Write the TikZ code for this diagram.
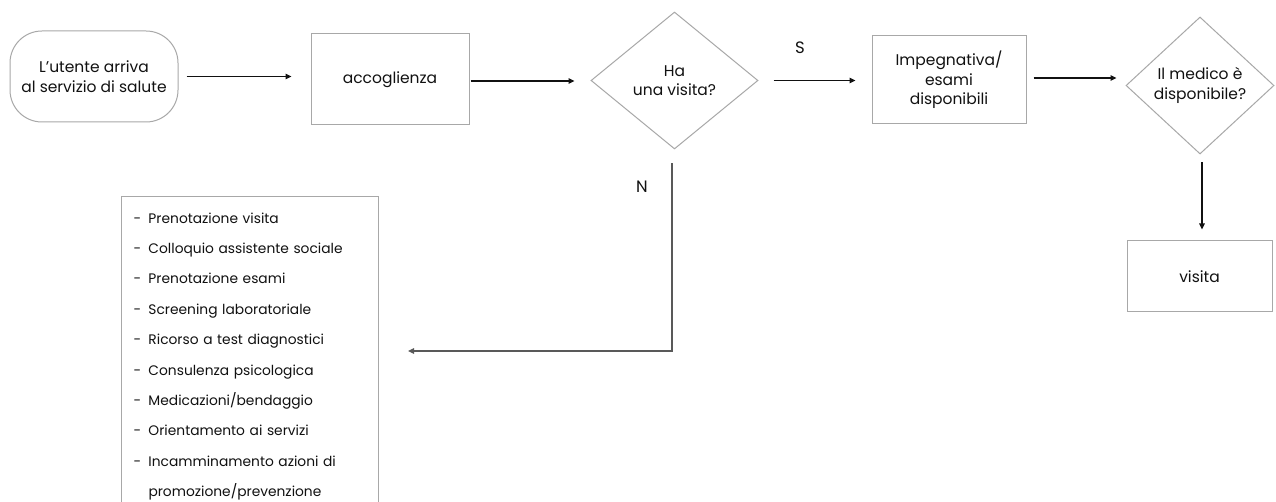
\documentclass[tikz,border=0pt]{standalone}
\usepackage{fontspec}
\setmainfont{Poppins}
\usetikzlibrary{shapes.geometric,arrows.meta}
\definecolor{boxline}{HTML}{A8A8A8}
\definecolor{ink}{HTML}{111111}
\tikzset{
  base/.style={draw=boxline, line width=1pt, text=ink, align=center, inner sep=0pt,
    font=\fontsize{15.5}{19.5}\selectfont},
  procbox/.style={base, rectangle},
  startbox/.style={base, rectangle, rounded corners=32pt},
  decision/.style={base, diamond, aspect=1.2},
  listbox/.style={draw=boxline, line width=1pt, text=ink, align=left,
    inner xsep=12pt, inner ysep=16pt, text width=233pt,
    font=\fontsize{13.8}{30.4}\selectfont},
  flow/.style={draw=ink, line width=1.1pt, -{Triangle[length=6pt,width=5.5pt]}},
  branch/.style={draw=black!65, line width=1.1pt, -{Triangle[length=6pt,width=5.5pt]}},
  answer/.style={text=ink, font=\fontsize{16.5}{18}\selectfont, inner sep=0pt}
}
\newcommand{\itm}[1]{\makebox[15pt][l]{-}#1}
\begin{document}
\begin{tikzpicture}[x=1pt,y=-1pt]
  \useasboundingbox[fill=white] (0,0) rectangle (1276,502);

  % main row
  \node[startbox, minimum width=168pt, minimum height=91pt] (start) at (94,76.5)
    {L'utente arriva\\al servizio di salute};
  \node[procbox, minimum width=158pt, minimum height=91pt] (acc) at (390,79.5) {accoglienza};
  \node[decision, minimum width=167pt, minimum height=137pt] (d1) at (674.5,80.5)
    {Ha\\una visita?};
  \node[procbox, minimum width=154pt, minimum height=88pt] (imp) at (949,80)
    {Impegnativa/\\esami\\disponibili};
  \node[decision, minimum width=148pt, minimum height=137pt] (d2) at (1200,85.5)
    {Il medico è\\disponibile?};
  \node[procbox, minimum width=145pt, minimum height=71pt] (vis) at (1199.5,276.5) {visita};

  % list of alternative services
  \node[listbox, anchor=north west] (list) at (121,196) {%
    \itm{Prenotazione visita}\\
    \itm{Colloquio assistente sociale}\\
    \itm{Prenotazione esami}\\
    \itm{Screening laboratoriale}\\
    \itm{Ricorso a test diagnostici}\\
    \itm{Consulenza psicologica}\\
    \itm{Medicazioni/bendaggio}\\
    \itm{Orientamento ai servizi}\\
    \itm{Incamminamento azioni di}\\
    \hspace*{15pt}promozione/prevenzione};

  % answer labels
  \node[answer] (lblS) at (800,48) {S};
  \node[answer] (lblN) at (642,187) {N};

  % connectors
  \path[flow, shorten <=8pt, shorten >=19pt] (start.east) -- (start.east -| acc.west);
  \path[flow, shorten <=1pt, shorten >=16pt] ([yshift=-1.5pt]acc.east) -- ([yshift=-1.5pt]acc.east -| d1.west);
  \path[flow, shorten <=15pt, shorten >=16pt] (d1.east) -- (d1.east -| imp.west);
  \path[flow, shorten <=7pt, shorten >=9pt] ([yshift=2pt]imp.east) -- ([yshift=2pt]imp.east -| d2.west);
  \path[flow, shorten <=8pt, shorten >=11pt] ([xshift=2pt]d2.south) -- ([xshift=2pt]d2.south |- vis.north);
  \coordinate (nend) at (408,351);
  \path[branch, shorten <=14pt] ([xshift=-2.5pt]d1.south) |- (nend);
\end{tikzpicture}
\end{document}
